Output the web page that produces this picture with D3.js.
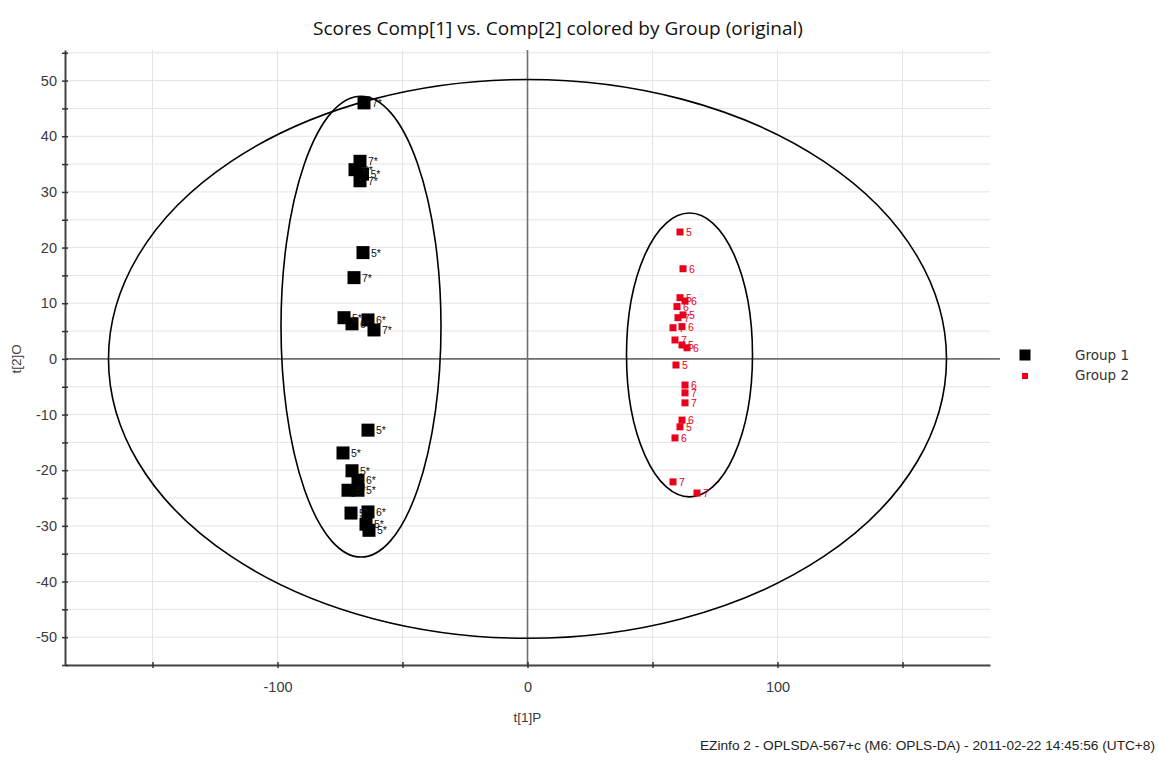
<!DOCTYPE html>
<html>
<head>
<meta charset="utf-8">
<script src="https://cdn.jsdelivr.net/npm/d3@7"></script>
<style>
  html, body { margin: 0; padding: 0; background: #fff; }
  svg { display: block; }
</style>
</head>
<body>
<svg id="chart" width="1159" height="761"></svg>
<script>
// Score values t[1]P (x) and t[2]O (y) with observation labels
const group1X = [-65.4, -67, -69, -66, -67, -65.8, -69.4, -73.4, -70.2, -63.8, -61.4,
                 -63.8, -73.8, -70.2, -67.8, -71.8, -67.8, -70.6, -63.8, -64.6, -63.4];
const group1Y = [46.0, 35.5, 34, 33.2, 32, 19.1, 14.6, 7.4, 6.3, 7.0, 5.2,
                 -12.8, -16.9, -20.1, -21.8, -23.6, -23.6, -27.7, -27.5, -29.7, -30.8];
const group1Labels = ["7*", "7*", "6*", "5*", "7*", "5*", "7*", "5*", "6*", "6*", "7*",
                      "5*", "5*", "5*", "6*", "5*", "5*", "5*", "6*", "5*", "5*"];

const group2X = [61, 62.2, 61, 63, 59.8, 60.2, 62.2, 61.8, 58.2, 59, 61.8, 63.8, 59.4,
                 63, 63, 63, 61.8, 61, 59, 58.2, 67.8];
const group2Y = [22.8, 16.2, 11, 10.4, 9.4, 7.4, 7.9, 5.8, 5.6, 3.4, 2.5, 2.0, -1.1,
                 -4.7, -6.1, -7.9, -11, -12.2, -14.2, -22.1, -24.1];
const group2Labels = ["5", "6", "5", "6", "6", "7", "5", "6", "7", "7", "5", "6", "5",
                      "6", "7", "7", "6", "5", "6", "7", "7"];

// Ellipses: [centerX, centerY, radiusX, radiusY]
const ellipseT2 = [0, 0, 167.6, 50.2];
const ellipseGroup1 = [-66.6, 5.8, 32, 41.4];
const ellipseGroup2 = [64.8, 0.7, 25.2, 25.5];

const xTicks = [-100, 0, 100];
const xMinorTicks = [-150, -100, -50, 0, 50, 100, 150];
const yTicks = [50, 40, 30, 20, 10, 0, -10, -20, -30, -40, -50];
const yMinorTicks = d3.range(-55, 56, 5);

const legendNames = ["Group 1", "Group 2"];
const groupColors = ["#000000", "#e8001c"];

const titleText = "Scores Comp[1] vs. Comp[2] colored by Group (original)";
const footerText = "EZinfo 2 - OPLSDA-567+c (M6: OPLS-DA) - 2011-02-22 14:45:56 (UTC+8)";

const svg = d3.select("#chart");
const x = d3.scaleLinear().domain([-185, 185]).range([65, 990]);
const y = d3.scaleLinear().domain([-55, 55.5]).range([665, 50]);

const labelFont = "Liberation Sans, Arial, sans-serif";

// grid
const grid = svg.append("g");
grid.selectAll("line.h").data(yMinorTicks).join("line")
  .attr("x1", x(-185)).attr("x2", x(185))
  .attr("y1", d => y(d)).attr("y2", d => y(d))
  .attr("stroke", "#e4e4e4").attr("stroke-width", 1);
grid.selectAll("line.v").data(xMinorTicks.filter(d => d !== 0)).join("line")
  .attr("y1", y(55.5)).attr("y2", y(-55))
  .attr("x1", d => x(d)).attr("x2", d => x(d))
  .attr("stroke", "#e4e4e4").attr("stroke-width", 1);

// zero lines
svg.append("line").attr("x1", x(-185)).attr("x2", 1000)
  .attr("y1", y(0)).attr("y2", y(0)).attr("stroke", "#707070").attr("stroke-width", 1.6);
svg.append("line").attr("x1", x(0)).attr("x2", x(0))
  .attr("y1", y(55.5)).attr("y2", y(-55)).attr("stroke", "#707070").attr("stroke-width", 1.6);

// axes
const xAxis = d3.axisBottom(x).tickValues(xMinorTicks).tickSizeInner(4).tickSizeOuter(0)
  .tickFormat(d => xTicks.includes(d) ? d : "");
const gx = svg.append("g").attr("transform", `translate(0,${y(-55)})`).call(xAxis);
gx.select(".domain").attr("stroke", "#444").attr("stroke-width", 2);
gx.selectAll(".tick line").attr("y1", -3).attr("y2", 3).attr("stroke", "#333").attr("stroke-width", 1.5);
gx.selectAll(".tick text").attr("y", 17).attr("dy", "0.71em")
  .attr("font-family", labelFont).attr("font-size", 14.5).attr("fill", "#3a3a3a");

const yAxis = d3.axisLeft(y).tickValues(yMinorTicks).tickSizeInner(4).tickSizeOuter(0)
  .tickFormat(d => yTicks.includes(d) ? d : "");
const gy = svg.append("g").attr("transform", `translate(${x(-185)},0)`).call(yAxis);
gy.select(".domain").attr("stroke", "#444").attr("stroke-width", 2);
gy.selectAll(".tick line").attr("x1", -3).attr("x2", 3).attr("stroke", "#333").attr("stroke-width", 1.5);
gy.selectAll(".tick text").attr("x", -8)
  .attr("font-family", labelFont).attr("font-size", 14.5).attr("fill", "#3a3a3a");

// ellipses
function drawEllipse(e) {
  svg.append("ellipse")
    .attr("cx", x(e[0])).attr("cy", y(e[1]))
    .attr("rx", x(e[0] + e[2]) - x(e[0])).attr("ry", y(e[1]) - y(e[1] + e[3]))
    .attr("fill", "none").attr("stroke", "#000").attr("stroke-width", 1.6);
}
drawEllipse(ellipseT2);
drawEllipse(ellipseGroup1);
drawEllipse(ellipseGroup2);

// group 1 points
const g1 = group1X.map((v, i) => ({ x: v, y: group1Y[i], label: group1Labels[i] }));
svg.append("g").selectAll("rect").data(g1).join("rect")
  .attr("x", d => x(d.x) - 6.5).attr("y", d => y(d.y) - 6.5)
  .attr("width", 13).attr("height", 13).attr("fill", groupColors[0]);
svg.append("g").selectAll("text").data(g1).join("text")
  .attr("x", d => x(d.x) + 8).attr("y", d => y(d.y) + 4)
  .attr("font-family", labelFont).attr("font-size", 10.5)
  .attr("fill", "#111").text(d => d.label);

// group 2 points
const g2 = group2X.map((v, i) => ({ x: v, y: group2Y[i], label: group2Labels[i] }));
svg.append("g").selectAll("rect").data(g2).join("rect")
  .attr("x", d => x(d.x) - 3.5).attr("y", d => y(d.y) - 3.5)
  .attr("width", 7).attr("height", 7).attr("fill", groupColors[1]);
svg.append("g").selectAll("text").data(g2).join("text")
  .attr("x", d => x(d.x) + 6).attr("y", d => y(d.y) + 4)
  .attr("font-family", labelFont).attr("font-size", 10.5)
  .attr("fill", groupColors[1]).text(d => d.label);

// title and axis titles
svg.append("text").attr("x", 558).attr("y", 35).attr("text-anchor", "middle")
  .attr("font-family", "Open Sans, Noto Sans, sans-serif").attr("font-size", 19)
  .attr("fill", "#111").text(titleText);
svg.append("text").attr("x", x(0)).attr("y", 722).attr("text-anchor", "middle")
  .attr("font-family", labelFont).attr("font-size", 13.5)
  .attr("fill", "#3a3a3a").text("t[1]P");
svg.append("text").attr("transform", `translate(21,${y(0)}) rotate(-90)`)
  .attr("text-anchor", "middle")
  .attr("font-family", labelFont).attr("font-size", 13.5)
  .attr("fill", "#3a3a3a").text("t[2]O");

// legend
const legend = svg.append("g");
legendNames.forEach((name, i) => {
  const s = i === 0 ? 11 : 6;
  legend.append("rect").attr("x", 1025 - s / 2).attr("y", 355 + i * 21 - s / 2)
    .attr("width", s).attr("height", s).attr("fill", groupColors[i]);
  legend.append("text").attr("x", 1075).attr("y", 360 + i * 20)
    .attr("font-family", "DejaVu Sans, Verdana, sans-serif").attr("font-size", 13.5)
    .attr("fill", "#333").text(name);
});

// footer
svg.append("text").attr("x", 1155).attr("y", 750).attr("text-anchor", "end")
  .attr("font-family", labelFont).attr("font-size", 12)
  .attr("textLength", 455).attr("lengthAdjust", "spacingAndGlyphs")
  .attr("fill", "#222").text(footerText);
</script>
</body>
</html>
